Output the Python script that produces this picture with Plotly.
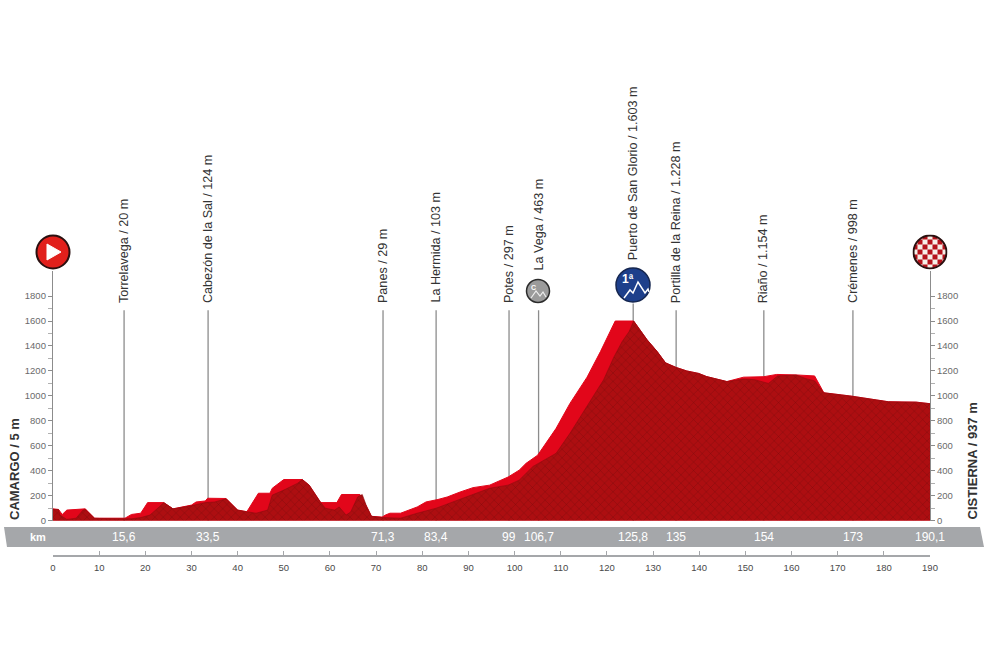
import base64
import plotly.graph_objects as go

W, H = 984, 655

# ---- data ----
ridge_km = [0, 1.2, 2, 3, 7, 9, 10, 15, 15.6, 17, 19, 20.5, 24, 26, 28, 30, 31, 33, 33.5, 37.5, 40, 42, 44.5, 47, 47.5,
            50, 54, 55.5, 58, 61.5, 62.5, 66.5, 68, 69, 71.3, 72, 73, 75.3, 78.9, 80.8, 83.4, 85.4, 88.2, 91, 94.6,
            98.6, 101, 102.5, 105, 106.7, 109, 112, 115.7, 118.6, 121.8, 125.8, 128.7, 130.9, 132.7, 135, 137.3,
            139.9, 141.6, 146, 149.6, 154, 156.8, 161, 165, 167, 173, 181, 187, 190.1]
ridge_m = [95, 90, 50, 85, 95, 20, 20, 15, 20, 50, 60, 145, 145, 95, 110, 125, 150, 158, 180, 178, 85, 72, 220, 220, 260,
           330, 330, 285, 145, 145, 210, 210, 110, 35, 29, 45, 60, 60, 110, 150, 170, 190, 230, 265, 285,
           350, 405, 460, 525, 620, 740, 940, 1150, 1355, 1600, 1600, 1450, 1355, 1265, 1228, 1200,
           1180, 1155, 1115, 1150, 1154, 1172, 1168, 1160, 1025, 998, 953, 950, 937]
face_km = [0, 1.2, 1.5, 3, 5, 6.5, 7, 9, 10, 15, 17, 19, 21, 23, 24, 26, 28, 30, 33, 35, 37.5, 40, 42, 44, 46.5, 47.5,
           50, 53, 54, 55.5, 58, 59, 61, 62, 63.5, 64.5, 66, 67, 68, 69, 71.3, 75.3, 78.9, 83, 89.5, 94.6, 98.6, 101,
           104, 109, 112, 115.7, 119.3, 121.5, 123.3, 124.8, 125.8, 128.7, 130.9, 132.7, 135, 137.3, 139.9, 141.6, 146,
           149.6, 152, 155, 157, 161, 163, 165, 167, 173, 181, 187, 190.1]
face_m = [90, 90, 45, 10, 20, 85, 90, 20, 18, 15, 15, 25, 45, 110, 145, 95, 105, 120, 145, 150, 175, 85, 72, 60, 85, 205,
          245, 300, 330, 285, 145, 100, 85, 110, 45, 70, 190, 210, 110, 35, 25, 20, 60, 100, 190, 260, 285, 325,
          435, 540, 700, 913, 1130, 1310, 1435, 1515, 1600, 1450, 1355, 1265, 1228, 1200, 1180, 1155, 1115,
          1135, 1130, 1100, 1160, 1168, 1140, 1120, 1025, 998, 953, 950, 937]
stop_km = [15.4, 33.6, 71.5, 83, 98.8, 105.2, 125.7, 135, 154, 173.3]
stop_names = ["Torrelavega / 20 m", "Cabezón de la Sal / 124 m", "Panes / 29 m", "La Hermida / 103 m", "Potes / 297 m",
              "La Vega / 463 m", "Puerto de San Glorio / 1.603 m", "Portilla de la Reina / 1.228 m",
              "Riaño / 1.154 m", "Crémenes / 998 m"]
stop_km_labels = ["15,6", "33,5", "71,3", "83,4", "99", "106,7", "125,8", "135", "154", "173"]
stop_top_m = [1687, 1687, 1687, 1687, 1687, 1687, 1740, 1687, 1687, 1687]
stop_label_bottom_px = [304, 304, 304, 304, 304, 272, 261, 304, 304, 304]
start_label = "CAMARGO / 5 m"
finish_label = "CISTIERNA / 937 m"
finish_km_label = "190,1"
alt_ticks = [0, 200, 400, 600, 800, 1000, 1200, 1400, 1600, 1800]
alt_minor = [100, 300, 500, 700, 900, 1100, 1300, 1500, 1700]
km_ticks = list(range(0, 200, 10))

# ---- page geometry ----
X0, X1 = 53.0, 930.0        # pixel of km 0 / km 190
Y0, YT = 520.7, 271.1       # pixel of 0 m / 2000 m
px = lambda v: v / W
py = lambda v: 1 - v / H
FONT = "Liberation Sans, Arial, sans-serif"
GREY = "#a5a7aa"

fig = go.Figure()
for km, top in zip(stop_km, stop_top_m):
    fig.add_trace(go.Scatter(x=[km, km], y=[-50, top], mode="lines", line=dict(color="#8c8c8c", width=1.3),
                             cliponaxis=False, hoverinfo="skip", showlegend=False))
fig.add_trace(go.Scatter(x=ridge_km, y=ridge_m, mode="lines", line=dict(color="#e2061a", width=1), fill="tozeroy",
                         fillcolor="#e2061a", hoverinfo="skip", showlegend=False))
fig.add_trace(go.Scatter(x=face_km, y=face_m, mode="lines", line=dict(color="#8f0a0d", width=0.6), fill="tozeroy",
                         fillcolor="#ad0e11",
                         fillpattern=dict(shape="x", fgcolor="#4a0506", bgcolor="#ad0e11", size=6, solidity=0.12,
                                          fgopacity=0.55),
                         hoverinfo="skip", showlegend=False))
fig.add_trace(go.Scatter(x=[190.1], y=[937], yaxis="y2", mode="markers", marker=dict(opacity=0), hoverinfo="skip",
                         showlegend=False))

y_common = dict(range=[0, 2000], domain=[py(Y0), py(YT)], tickmode="array", tickvals=alt_ticks,
                ticks="outside", ticklen=4, tickcolor="#8c8c8c", tickwidth=1, automargin=False,
                tickfont=dict(family=FONT, size=9.5, color="#6a6a6a"),
                showgrid=False, zeroline=False, showline=True, linecolor="#8c8c8c", linewidth=1.3,
                minor=dict(tickmode="array", tickvals=alt_minor, ticks="outside", ticklen=4, tickcolor="#b0b0b0",
                           showgrid=False))
fig.update_layout(
    width=W, height=H, autosize=False, margin=dict(l=0, r=0, t=0, b=0, pad=0, autoexpand=False),
    paper_bgcolor="white", plot_bgcolor="rgba(0,0,0,0)", showlegend=False,
    xaxis=dict(domain=[px(X0), px(X1)], range=[0, 190], anchor="free", position=py(556), tickmode="array",
               tickvals=km_ticks, ticks="inside", ticklen=4, tickcolor=GREY, tickwidth=1, showgrid=False, automargin=False,
               zeroline=False, showline=True, linecolor=GREY, linewidth=1.5, ticklabelstandoff=3,
               tickfont=dict(family=FONT, size=9.5, color="#4a4a4a")),
    yaxis=dict(side="left", anchor="x", **y_common),
    yaxis2=dict(side="right", anchor="x", overlaying="y", **y_common),
)

def circle(cx, cy, d, fill, line, lw=2):
    r = d / 2
    fig.add_shape(type="circle", xref="paper", yref="paper", x0=px(cx - r), x1=px(cx + r), y0=py(cy + r), y1=py(cy - r),
                  fillcolor=fill, line=dict(color=line, width=lw), layer="above")

def path(points, fill=None, color="white", lw=1.5, close=False):
    d = "M " + " L ".join(f"{px(a):.5f},{py(b):.5f}" for a, b in points) + (" Z" if close else "")
    fig.add_shape(type="path", xref="paper", yref="paper", path=d, layer="above",
                  fillcolor=fill if fill else "rgba(0,0,0,0)", line=dict(color=color, width=lw))

def note(text, x, y, size, color="#333333", bold=False, xref="paper", angle=0, xanchor="center", yanchor="middle"):
    fig.add_annotation(text=f"<b>{text}</b>" if bold else text, x=x, y=y, xref=xref, yref="paper", showarrow=False,
                       textangle=angle, xanchor=xanchor, yanchor=yanchor, borderpad=0,
                       font=dict(family=FONT, size=size, color=color))

path([(4, 527), (980, 527), (984, 547), (7, 547)], fill=GREY, color=GREY, lw=0, close=True)

for km, name, lab, bottom in zip(stop_km, stop_names, stop_km_labels, stop_label_bottom_px):
    note(name, km, py(bottom), 12.6, xref="x", angle=-90, yanchor="bottom")
    note(lab, km, py(537), 12, color="white", xref="x")
note("km", px(38), py(537), 11, color="white", bold=True)
note(finish_km_label, px(930), py(537), 12, color="white")
note(start_label, px(14), py(521), 13, bold=True, angle=-90, yanchor="bottom")
note(finish_label, px(972), py(521), 13, bold=True, angle=-90, yanchor="bottom")

circle(53, 252, 33, "#e1201c", "#2a1010", 2)
path([(47, 244), (61, 252), (47, 260)], fill="white", color="white", lw=1, close=True)

cells = "".join(f'<rect x="{i*5}" y="{j*5}" width="5" height="5" fill="#b5121b"/>'
                for i in range(7) for j in range(7) if (i + j) % 2 == 0)
svg = ('<svg xmlns="http://www.w3.org/2000/svg" width="35" height="35" viewBox="0 0 35 35">'
       '<defs><clipPath id="c"><circle cx="17.5" cy="17.5" r="16.5"/></clipPath></defs>'
       f'<g clip-path="url(#c)"><rect width="35" height="35" fill="#f7efe8"/>{cells}</g>'
       '<circle cx="17.5" cy="17.5" r="16.5" fill="none" stroke="#2a1010" stroke-width="2"/></svg>')
fig.add_layout_image(source="data:image/svg+xml;base64," + base64.b64encode(svg.encode()).decode(), xref="paper",
                     yref="paper", x=px(912.5), y=py(234.5), sizex=px(35), sizey=35 / H, sizing="stretch",
                     xanchor="left", yanchor="top", layer="above")

circle(538, 291, 23, "#9b9b9b", "#2b2b2b", 1.5)
path([(531, 298), (536, 291), (540, 296), (543, 292), (546, 297)], color="#eeeeee", lw=1.2)
note("C", px(533), py(288), 7, color="white", bold=True)

circle(633, 285, 34, "#1d3f8b", "#15264f", 1.5)
path([(624, 298), (630, 290), (633, 293), (638, 282), (645, 293), (648, 289), (649, 292)], color="white", lw=1.5)
note("1ª", px(628), py(279), 12, color="white", bold=True)

fig.write_html("out.html", config={"displayModeBar": False}, post_script="document.body.style.margin='0';")
